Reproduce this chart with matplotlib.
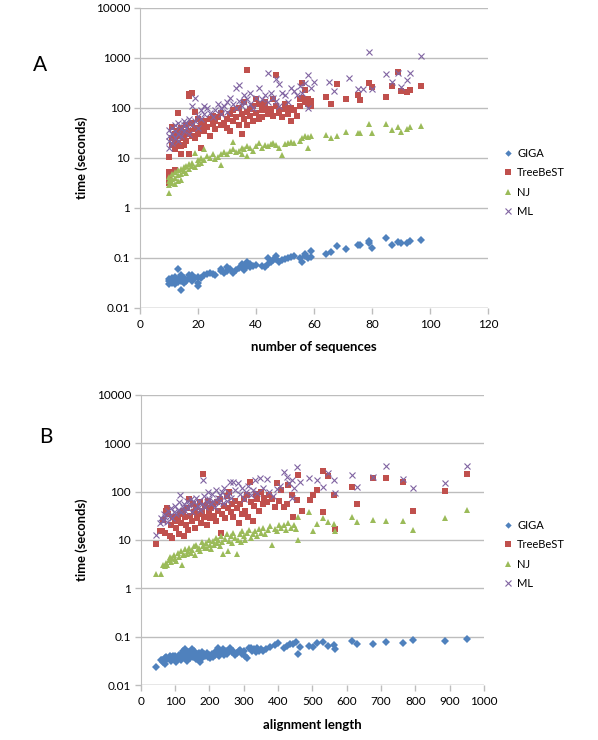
"""
Runtime comparison scatter (GIGA / TreeBeST / NJ / ML), two panels, log time axis.
"""
import matplotlib
matplotlib.use('Agg')
import matplotlib.pyplot as plt
from matplotlib.ticker import FixedLocator, NullLocator

plt.rcParams['font.family'] = ['Lato', 'DejaVu Sans']

# ---- panel A: number of sequences ----
giga_a_x = [10, 10, 10, 11, 11, 11, 12, 12, 12, 13, 13, 13, 14, 14, 14, 15, 15, 16, 17, 17, 18, 18, 19,
            20, 20, 20, 21, 22, 23, 24, 25, 26, 28, 28, 29, 30, 30, 31, 32, 33, 34, 35, 35, 36, 36, 37, 37,
            38, 38, 39, 40, 42, 43, 44, 44, 45, 46, 47, 47, 48, 49, 50, 51, 52, 53, 55, 56, 57, 57, 58, 59,
            59, 64, 66, 68, 71, 75, 76, 79, 79, 80, 85, 87, 89, 90, 92, 93, 97]
giga_a_y = [0.035, 0.03, 0.038, 0.032, 0.04, 0.036, 0.03, 0.034, 0.042, 0.06, 0.038, 0.033, 0.023, 0.035,
            0.045, 0.032, 0.04, 0.035, 0.045, 0.04, 0.035, 0.045, 0.04, 0.028, 0.032, 0.042, 0.04, 0.045,
            0.048, 0.05, 0.048, 0.045, 0.06, 0.055, 0.05, 0.065, 0.055, 0.06, 0.05, 0.058, 0.062, 0.07,
            0.075, 0.065, 0.058, 0.085, 0.07, 0.075, 0.065, 0.07, 0.072, 0.07, 0.065, 0.1, 0.075, 0.085,
            0.09, 0.11, 0.095, 0.085, 0.09, 0.095, 0.1, 0.105, 0.11, 0.1, 0.085, 0.12, 0.11, 0.1, 0.14,
            0.105, 0.12, 0.13, 0.17, 0.15, 0.18, 0.18, 0.22, 0.2, 0.16, 0.25, 0.18, 0.21, 0.2, 0.2, 0.22,
            0.23]

tree_a_x = [10, 10, 10, 10, 11, 11, 11, 12, 12, 12, 12, 13, 13, 13, 13, 14, 14, 14, 15, 15, 15, 16, 16, 16,
            17, 17, 17, 17, 18, 18, 18, 19, 19, 19, 20, 20, 20, 21, 21, 22, 22, 23, 24, 24, 25, 25, 26, 26,
            27, 28, 28, 29, 30, 30, 31, 31, 32, 32, 33, 34, 34, 35, 35, 36, 36, 37, 37, 37, 38, 38, 39, 39,
            40, 40, 41, 41, 42, 42, 43, 43, 44, 45, 45, 46, 46, 47, 47, 48, 48, 49, 50, 50, 51, 52, 52, 53,
            54, 55, 55, 56, 56, 57, 57, 58, 58, 59, 59, 64, 66, 68, 71, 75, 76, 79, 80, 85, 87, 89, 90, 92,
            93, 97]
tree_a_y = [10.6, 5.3, 3.2, 4.2, 42, 18, 25, 5.8, 30, 15, 22, 78, 35, 28, 20, 17, 40, 12, 25, 33, 18, 30, 45,
            22, 170, 190, 35, 12, 200, 28, 50, 85, 38, 25, 40, 60, 30, 16, 45, 35, 55, 42, 27, 60, 48, 70,
            38, 55, 65, 45, 80, 50, 60, 40, 35, 75, 55, 90, 65, 45, 100, 75, 30, 130, 60, 570, 85, 45, 95,
            70, 110, 55, 150, 80, 60, 120, 90, 65, 100, 130, 75, 85, 95, 150, 70, 450, 110, 80, 90, 65, 120,
            95, 75, 100, 55, 90, 70, 150, 110, 310, 160, 230, 130, 150, 120, 110, 140, 165, 120, 300, 150,
            185, 145, 310, 260, 165, 270, 520, 215, 205, 230, 270]

nj_a_x = [10, 10, 10, 10, 11, 11, 11, 12, 12, 12, 13, 13, 13, 14, 14, 14, 15, 15, 16, 16, 17, 17, 18, 18,
          19, 19, 20, 20, 21, 21, 22, 22, 23, 24, 25, 26, 27, 28, 28, 29, 30, 31, 32, 32, 33, 34, 35, 35,
          36, 37, 37, 38, 39, 40, 41, 42, 43, 44, 45, 46, 47, 48, 49, 50, 51, 52, 53, 55, 56, 57, 58, 58,
          59, 64, 66, 68, 71, 75, 76, 79, 80, 85, 87, 89, 90, 92, 93, 97]
nj_a_y = [2.0, 2.9, 3.5, 4.2, 3.2, 4.8, 3.8, 4.0, 5.2, 3.0, 4.5, 5.8, 3.4, 4.8, 6.0, 3.6, 5.5, 6.5, 6.8, 5.0,
          7.5, 6.0, 8.0, 7.0, 12.6, 6.5, 9.0, 7.5, 10, 8.0, 15, 9.0, 11, 10, 12, 9.5, 10.5, 7.2, 12, 13, 12,
          14, 21, 15, 13, 14, 16, 12, 15, 11, 17, 16, 14, 17, 20, 16, 18, 17, 19, 20, 18, 16, 11.5, 19, 20,
          21, 20, 22, 25, 28, 15.8, 26, 27, 29, 25, 28, 33.6, 31, 32, 48, 31, 48, 37, 42, 33, 38, 42, 44]

ml_a_x = [10, 10, 10, 10, 11, 11, 11, 12, 12, 12, 13, 13, 13, 14, 14, 15, 15, 15, 16, 16, 17, 17, 18, 18,
          19, 19, 20, 20, 21, 21, 22, 22, 23, 24, 25, 26, 27, 28, 28, 29, 30, 30, 31, 32, 33, 33, 34, 34,
          35, 36, 36, 37, 38, 38, 39, 40, 41, 42, 43, 44, 44, 45, 46, 47, 47, 48, 48, 49, 50, 51, 52, 53,
          54, 55, 56, 57, 58, 58, 59, 60, 65, 67, 72, 75, 77, 79, 80, 85, 87, 89, 90, 92, 93, 97]
ml_a_y = [16, 22, 28, 36, 20, 30, 40, 25, 35, 45, 30, 50, 22, 38, 28, 45, 35, 55, 40, 50, 30, 60, 45, 110,
          158, 55, 70, 40, 90, 60, 110, 75, 100, 80, 65, 90, 120, 100, 75, 110, 130, 85, 160, 120, 250,
          100, 290, 140, 110, 180, 130, 150, 120, 200, 100, 160, 250, 150, 180, 510, 130, 200, 160, 380,
          140, 300, 110, 200, 180, 130, 250, 220, 180, 280, 200, 320, 460, 100, 250, 330, 330, 220, 400,
          240, 240, 1330, 240, 470, 330, 500, 260, 360, 510, 1100]

# ---- panel B: alignment length ----
giga_b_x = [44, 58, 62, 66, 70, 72, 75, 78, 82, 85, 88, 90, 94, 97, 100, 104, 108, 112, 115, 118, 120, 124,
            126, 128, 130, 133, 136, 140, 142, 145, 148, 150, 153, 156, 160, 163, 166, 170, 172, 175, 178,
            180, 184, 188, 192, 195, 198, 202, 205, 208, 212, 215, 218, 222, 225, 228, 232, 236, 240, 244,
            248, 252, 256, 260, 265, 270, 275, 280, 285, 290, 295, 300, 305, 310, 315, 320, 325, 330, 335,
            340, 345, 350, 355, 365, 377, 390, 401, 416, 425, 435, 445, 452, 459, 464, 491, 503, 515, 532,
            547, 563, 566, 615, 631, 676, 715, 763, 792, 886, 950]
giga_b_y = [0.0235, 0.034, 0.033, 0.031, 0.036, 0.028, 0.038, 0.035, 0.037, 0.04, 0.032, 0.038, 0.041,
            0.035, 0.04, 0.03, 0.036, 0.042, 0.038, 0.033, 0.045, 0.05, 0.04, 0.055, 0.036, 0.045, 0.032,
            0.04, 0.048, 0.036, 0.057, 0.042, 0.038, 0.05, 0.035, 0.044, 0.04, 0.047, 0.03, 0.042, 0.036,
            0.048, 0.044, 0.04, 0.046, 0.038, 0.043, 0.036, 0.04, 0.045, 0.038, 0.042, 0.05, 0.046, 0.058,
            0.04, 0.052, 0.048, 0.056, 0.043, 0.05, 0.045, 0.052, 0.06, 0.048, 0.05, 0.042, 0.047, 0.05,
            0.053, 0.045, 0.052, 0.04, 0.036, 0.058, 0.06, 0.05, 0.055, 0.048, 0.06, 0.052, 0.056, 0.05,
            0.055, 0.063, 0.068, 0.073, 0.058, 0.066, 0.071, 0.07, 0.08, 0.044, 0.063, 0.066, 0.063, 0.076,
            0.08, 0.066, 0.068, 0.055, 0.082, 0.072, 0.072, 0.078, 0.073, 0.086, 0.082, 0.09]

tree_b_x = [44, 56, 62, 66, 70, 75, 78, 80, 84, 88, 92, 95, 100, 104, 108, 112, 115, 118, 122, 125, 128, 132,
            135, 138, 142, 145, 148, 152, 155, 158, 162, 165, 168, 172, 175, 178, 181, 184, 188, 192, 195,
            198, 202, 206, 210, 214, 218, 222, 226, 230, 234, 238, 242, 246, 250, 254, 258, 262, 266, 270,
            275, 280, 285, 290, 295, 300, 305, 310, 314, 318, 322, 326, 330, 335, 340, 345, 350, 355, 360,
            368, 375, 382, 390, 396, 402, 410, 418, 425, 430, 440, 445, 454, 459, 469, 493, 503, 515, 532,
            532, 547, 563, 566, 615, 631, 676, 715, 763, 792, 886, 950]
tree_b_y = [8.2, 15, 15, 26, 14, 40, 45, 35, 12, 20, 11, 30, 25, 18, 28, 13, 35, 22, 40, 12, 30, 20, 45, 16,
            70, 32, 25, 55, 38, 18, 48, 28, 35, 60, 22, 40, 230, 30, 50, 20, 65, 38, 28, 45, 55, 32, 25, 60,
            40, 70, 14, 35, 50, 28, 80, 45, 100, 38, 55, 30, 65, 45, 22, 55, 35, 70, 40, 85, 30, 155, 60, 25,
            50, 90, 70, 40, 100, 55, 75, 60, 85, 70, 48, 150, 65, 110, 48, 55, 135, 85, 30, 67, 215, 39, 67,
            85, 108, 270, 37, 205, 85, 17, 122, 56, 195, 190, 155, 40, 105, 235]

nj_b_x = [44, 59, 66, 70, 74, 78, 82, 85, 88, 92, 96, 100, 104, 108, 112, 116, 119, 122, 126, 130, 134, 138,
          142, 146, 150, 154, 158, 162, 166, 170, 174, 178, 182, 186, 190, 194, 198, 202, 206, 210, 214, 218,
          222, 226, 230, 234, 238, 241, 245, 250, 255, 258, 262, 266, 270, 274, 280, 284, 288, 292, 296, 300,
          305, 310, 315, 320, 326, 332, 338, 344, 350, 356, 362, 370, 376, 382, 390, 396, 404, 410, 416, 424,
          430, 438, 446, 452, 459, 459, 491, 503, 515, 532, 547, 563, 566, 615, 631, 676, 715, 763, 792, 886,
          950]
nj_b_y = [2.0, 2.0, 3.0, 2.9, 3.3, 3.0, 3.8, 4.5, 3.5, 4.2, 5.0, 4.0, 3.6, 5.5, 4.5, 6.0, 3.0, 5.0, 4.8, 6.5,
          5.2, 5.8, 7.0, 5.5, 6.2, 7.5, 5.0, 8.0, 6.5, 7.0, 6.0, 9.0, 7.5, 6.8, 8.5, 7.0, 10, 8.0, 6.5, 9.5,
          7.8, 11, 8.5, 10, 7.5, 12, 9.0, 5.1, 10.5, 13, 5.9, 9.5, 12, 8.5, 14, 11, 5.1, 10, 13, 9.0, 15, 12,
          10, 14, 16, 11, 13, 15, 12, 17, 14, 18, 13, 16, 19, 8.0, 17, 15, 20, 18, 20, 16, 22, 18, 20, 17, 30,
          10, 37, 15.5, 21, 28, 24, 21, 15.5, 30, 23, 26, 25, 25, 16, 29, 41]

ml_b_x = [45, 56, 60, 64, 68, 72, 76, 80, 84, 88, 92, 96, 100, 104, 108, 112, 115, 118, 122, 126, 130, 134,
          138, 142, 146, 150, 154, 158, 162, 166, 170, 174, 178, 181, 184, 188, 192, 196, 200, 204, 208, 212,
          216, 220, 224, 228, 232, 236, 240, 244, 248, 252, 256, 260, 264, 270, 276, 284, 290, 296, 302, 308,
          314, 320, 326, 333, 340, 348, 356, 367, 375, 385, 396, 405, 416, 425, 432, 440, 440, 448, 454, 464,
          491, 513, 532, 547, 563, 566, 615, 631, 676, 715, 763, 792, 886, 950]
ml_b_y = [12.4, 22, 28, 25, 35, 30, 24, 40, 32, 45, 28, 38, 50, 35, 42, 60, 85, 38, 48, 55, 40, 65, 45, 52,
          70, 38, 60, 45, 75, 50, 65, 42, 55, 170, 80, 48, 60, 100, 70, 55, 90, 65, 48, 110, 75, 60, 85, 100,
          58, 120, 80, 65, 95, 160, 75, 160, 110, 150, 90, 120, 70, 100, 130, 85, 110, 170, 95, 190, 120, 180,
          100, 80, 115, 130, 250, 200, 150, 175, 73, 120, 320, 155, 190, 175, 125, 240, 175, 92, 215, 125,
          200, 330, 180, 117, 150, 340]

names = ['GIGA', 'TreeBeST', 'NJ', 'ML']
colors = ['#4f81bd', '#c0504d', '#9bbb59', '#8064a2']
markers = ['D', 's', '^', 'x']
sizes = [3.8, 4.6, 4.6, 4.4]


def draw_panel(ax, series, xmax, xstep, xlabel, legend_top):
    """Draws one Excel-style scatter panel."""
    for (xs, ys), name, color, marker, size in zip(series, names, colors, markers, sizes):
        if marker == 'x':
            ax.plot(xs, ys, linestyle='none', marker=marker, markersize=size, color=color,
                    markeredgewidth=0.8, label=name, zorder=3)
        else:
            ax.plot(xs, ys, linestyle='none', marker=marker, markersize=size, color=color,
                    markeredgewidth=0, label=name, zorder=3)

    ax.set_yscale('log')
    ax.set_ylim(0.01, 10000)
    ax.set_xlim(0, xmax)
    ax.yaxis.set_major_locator(FixedLocator([0.01, 0.1, 1, 10, 100, 1000, 10000]))
    ax.yaxis.set_minor_locator(NullLocator())
    ax.set_yticklabels(['0.01', '0.1', '1', '10', '100', '1000', '10000'])
    ax.set_xticks(list(range(0, xmax + 1, xstep)))
    ax.grid(axis='y', color='#bdbdbd', linewidth=1.0, zorder=0)

    ax.spines['top'].set_visible(False)
    ax.spines['right'].set_visible(False)
    ax.spines['bottom'].set_visible(False)
    ax.spines['left'].set_color('#bdbdbd')
    ax.tick_params(axis='y', length=4, width=1.0, color='#bdbdbd', labelsize=8.5, pad=3)
    ax.tick_params(axis='x', length=4, width=1.0, color='#bdbdbd', labelsize=8.5, pad=4)
    ax.axhline(0.01, color='#bdbdbd', linewidth=1.0, zorder=1)

    ax.set_ylabel('time (seconds)', fontsize=9.3, fontweight='bold', labelpad=6)
    ax.set_xlabel(xlabel, fontsize=9.5, fontweight='bold', labelpad=8)

    # legend sits to the right, a bit below the middle (Excel default)
    ax.legend(loc='upper left', bbox_to_anchor=(505 / 598, 1 - (legend_top + 2) / 740),
              bbox_transform=ax.figure.transFigure, frameon=False, fontsize=8,
              handlelength=0.6, handletextpad=0.5, labelspacing=0.75, borderaxespad=0,
              borderpad=0, markerscale=0.85)


fig = plt.figure(figsize=(5.98, 7.40), dpi=100)
ax_a = fig.add_axes([140 / 598, 1 - 308 / 740, 348 / 598, 300 / 740])
ax_b = fig.add_axes([140.7 / 598, 1 - 685.3 / 740, 343.3 / 598, 290.6 / 740])

draw_panel(ax_a, [(giga_a_x, giga_a_y), (tree_a_x, tree_a_y), (nj_a_x, nj_a_y), (ml_a_x, ml_a_y)],
           120, 20, 'number of sequences', 146)
draw_panel(ax_b, [(giga_b_x, giga_b_y), (tree_b_x, tree_b_y), (nj_b_x, nj_b_y), (ml_b_x, ml_b_y)],
           1000, 100, 'alignment length', 518)

fig.text(40 / 598, 1 - 65 / 740, 'A', fontsize=15, ha='center', va='center')
fig.text(46 / 598, 1 - 437 / 740, 'B', fontsize=15, ha='center', va='center')

fig.savefig('out.png', dpi=100)
